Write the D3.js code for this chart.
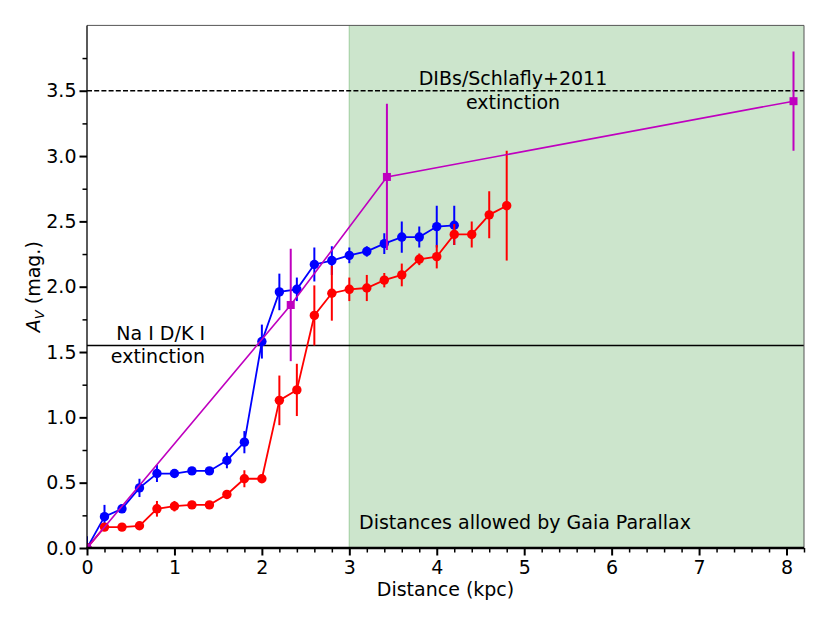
<!DOCTYPE html>
<html><head><meta charset="utf-8">
<script src="https://cdn.jsdelivr.net/npm/d3@7"></script>
<style>body{margin:0;background:#fff}svg{display:block;font-family:"DejaVu Sans",sans-serif}</style>
</head><body><svg id="c" width="830" height="623"></svg>
<script>
const blueDist = [0,0.2,0.4,0.6,0.8,1.0,1.2,1.4,1.6,1.8,2.0,2.2,2.4,2.6,2.8,3.0,3.2,3.4,3.6,3.8,4.0,4.2];
const blueAv   = [0,0.24,0.30,0.46,0.57,0.57,0.59,0.59,0.67,0.81,1.58,1.96,1.98,2.17,2.20,2.24,2.27,2.33,2.38,2.38,2.46,2.47];
const blueErr  = [0.09,0.09,0.03,0.07,0.065,0.02,0.02,0.02,0.06,0.085,0.13,0.14,0.09,0.13,0.11,0.06,0.04,0.08,0.12,0.08,0.16,0.15];
const redDist  = [0,0.2,0.4,0.6,0.8,1.0,1.2,1.4,1.6,1.8,2.0,2.2,2.4,2.6,2.8,3.0,3.2,3.4,3.6,3.8,4.0,4.2,4.4,4.6,4.8];
const redAv    = [0,0.16,0.16,0.17,0.30,0.32,0.33,0.33,0.41,0.53,0.53,1.13,1.21,1.78,1.95,1.98,1.99,2.05,2.09,2.21,2.23,2.40,2.40,2.55,2.62];
const redErr   = [0,0.03,0.03,0.03,0.06,0.04,0.03,0.03,0.03,0.065,0.03,0.19,0.2,0.23,0.21,0.09,0.1,0.055,0.087,0.045,0.09,0.08,0.1,0.18,0.42];
const magDist  = [0,2.33,3.43,8.08];
const magAv    = [0,1.86,2.84,3.42];
const magErr   = [0,0.43,0.56,0.38];
const xTicks = [0,1,2,3,4,5,6,7,8];
const yTicks = [0,0.5,1.0,1.5,2.0,2.5,3.0,3.5];
const naLevel = 1.55, dibLevel = 3.5, gaiaStart = 3;

const svg = d3.select("#c");
const L=87, R=804, T=25.4, B=548;
const x = d3.scaleLinear().domain([0,8.2]).range([L,R]);
const y = d3.scaleLinear().domain([0,4]).range([B,T]);
const FS = 19;

svg.append("defs").append("clipPath").attr("id","clip")
  .append("rect").attr("x",L).attr("y",T).attr("width",R-L).attr("height",B-T);

// Gaia span
svg.append("rect").attr("x",x(gaiaStart)).attr("y",T).attr("width",x(8.2)-x(gaiaStart)).attr("height",B-T)
  .attr("fill","#cce5cc");
svg.append("line").attr("x1",x(gaiaStart)).attr("x2",x(gaiaStart)).attr("y1",T).attr("y2",B)
  .attr("stroke","#a9d3a9").attr("stroke-width",1.2);

// horizontal reference lines
svg.append("line").attr("x1",L).attr("x2",R).attr("y1",y(naLevel)).attr("y2",y(naLevel))
  .attr("stroke","#000").attr("stroke-width",1.7);
svg.append("line").attr("x1",L).attr("x2",R).attr("y1",y(dibLevel)).attr("y2",y(dibLevel))
  .attr("stroke","#000").attr("stroke-width",1.5).attr("stroke-dasharray","5,2.2");

const plot = svg.append("g").attr("clip-path","url(#clip)");
function series(dist, av, err, color, shape, lw){
  const g = plot.append("g");
  const pts = dist.map((d,i)=>({d, v:av[i], e:err[i]}));
  g.selectAll("line.err").data(pts.filter(p=>p.e>0)).enter().append("line")
    .attr("x1",p=>x(p.d)).attr("x2",p=>x(p.d)).attr("y1",p=>y(p.v-p.e)).attr("y2",p=>y(p.v+p.e))
    .attr("stroke",color).attr("stroke-width",2);
  g.append("path").datum(pts).attr("fill","none").attr("stroke",color).attr("stroke-width",lw)
    .attr("d", d3.line().x(p=>x(p.d)).y(p=>y(p.v)));
  if(shape==="circle"){
    g.selectAll("circle").data(pts).enter().append("circle")
      .attr("cx",p=>x(p.d)).attr("cy",p=>y(p.v)).attr("r",4.7).attr("fill",color);
  } else {
    g.selectAll("rect").data(pts).enter().append("rect")
      .attr("x",p=>x(p.d)-4).attr("y",p=>y(p.v)-4).attr("width",8).attr("height",8).attr("fill",color);
  }
}
series(blueDist, blueAv, blueErr, "#0000ff", "circle", 1.8);
series(redDist, redAv, redErr, "#ff0000", "circle", 1.8);
series(magDist, magAv, magErr, "#bf00bf", "square", 1.6);

// annotations
const ann = svg.append("g").attr("font-size",FS).attr("fill","#000");
ann.append("text").attr("x",513).attr("y",85).attr("text-anchor","middle").text("DIBs/Schlafly+2011");
ann.append("text").attr("x",513).attr("y",109).attr("text-anchor","middle").text("extinction");
ann.append("text").attr("x",205).attr("y",340).attr("text-anchor","end").text("Na I D/K I");
ann.append("text").attr("x",205).attr("y",363).attr("text-anchor","end").text("extinction");
ann.append("text").attr("x",359).attr("y",529).text("Distances allowed by Gaia Parallax");

// frame
svg.append("line").attr("x1",L).attr("x2",R).attr("y1",T).attr("y2",T).attr("stroke","#555").attr("stroke-width",1);
svg.append("line").attr("x1",R).attr("x2",R).attr("y1",T).attr("y2",B).attr("stroke","#555").attr("stroke-width",1);

// axes
const xMinor = d3.range(0,8.21,0.2).filter(v=>Math.abs(v-Math.round(v))>1e-6);
const yMinor = d3.range(0.25,4.0,0.5);
const xAxis = svg.append("g").attr("transform",`translate(0,${B})`);
xAxis.call(d3.axisBottom(x).tickValues(xMinor).tickSize(4.5).tickFormat(""))
  .call(g=>{g.select(".domain").remove(); g.selectAll("line").attr("stroke-width",1.5);});
const xMaj = svg.append("g").attr("transform",`translate(0,${B})`);
xMaj.call(d3.axisBottom(x).tickValues(xTicks).tickSize(7.5).tickPadding(5).tickFormat(d3.format("d")))
  .call(g=>{g.select(".domain").remove(); g.selectAll("line").attr("stroke-width",2);
    g.selectAll("text").attr("font-size",FS).attr("font-family","DejaVu Sans").attr("fill","#000");});
const yMin = svg.append("g").attr("transform",`translate(${L},0)`);
yMin.call(d3.axisLeft(y).tickValues(yMinor).tickSize(4.5).tickFormat(""))
  .call(g=>{g.select(".domain").remove(); g.selectAll("line").attr("stroke-width",1.5);});
const yMaj = svg.append("g").attr("transform",`translate(${L},0)`);
yMaj.call(d3.axisLeft(y).tickValues(yTicks).tickSize(7.5).tickPadding(3).tickFormat(d3.format(".1f")))
  .call(g=>{g.select(".domain").remove(); g.selectAll("line").attr("stroke-width",2);
    g.selectAll("text").attr("font-size",FS).attr("font-family","DejaVu Sans").attr("fill","#000");});
svg.append("line").attr("x1",L).attr("x2",L).attr("y1",T).attr("y2",B).attr("stroke","#000").attr("stroke-width",1.3);
svg.append("line").attr("x1",L-0.6).attr("x2",R).attr("y1",B).attr("y2",B).attr("stroke","#000").attr("stroke-width",2.5);

// axis labels
svg.append("text").attr("x",(L+R)/2).attr("y",596).attr("text-anchor","middle").attr("font-size",FS).text("Distance (kpc)");
const yl = svg.append("text").attr("transform",`translate(40,${(T+B)/2}) rotate(-90)`).attr("text-anchor","middle").attr("font-size",FS);
yl.append("tspan").attr("font-style","italic").text("A");
yl.append("tspan").attr("font-style","italic").attr("font-size",13).attr("dy",4).text("V");
yl.append("tspan").attr("dy",-4).text(" (mag.)");
</script></body></html>
